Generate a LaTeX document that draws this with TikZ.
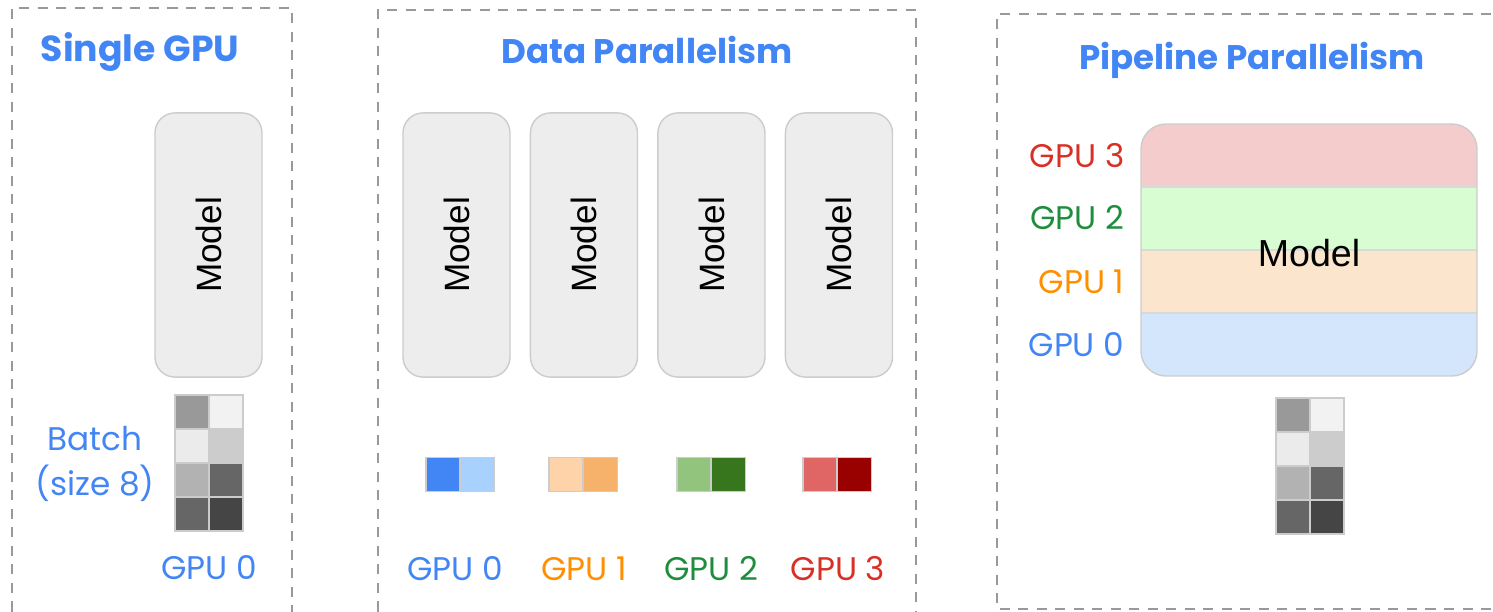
\documentclass[tikz,border=0pt]{standalone}
\usepackage{fontspec}
\setmainfont{Poppins}
\newfontfamily\modelfont{Liberation Sans}
\usetikzlibrary{positioning}

\definecolor{gpublue}{HTML}{4285F4}
\definecolor{gpuorange}{HTML}{FF8F00}
\definecolor{gpugreen}{HTML}{1E8E3E}
\definecolor{gpured}{HTML}{D93025}
\definecolor{bandred}{HTML}{F4CCCC}
\definecolor{bandgreen}{HTML}{D9FDD3}
\definecolor{bandpeach}{HTML}{FCE5CD}
\definecolor{bandblue}{HTML}{D3E6FB}
\definecolor{pairblue}{HTML}{A8D2FD}
\definecolor{pairpeach}{HTML}{FED3AA}
\definecolor{pairorange}{HTML}{F6B16B}
\definecolor{pairgreen}{HTML}{93C47D}
\definecolor{pairdarkgreen}{HTML}{38761D}
\definecolor{pairred}{HTML}{E06666}
\definecolor{pairdarkred}{HTML}{990000}

\tikzset{
x=0.01cm, y=-0.01cm, % one unit is one pixel of the layout, y runs down
panel/.style={draw=black!40, line width=0.7pt, dash pattern=on 0.1cm off 0.085cm},
title/.style={text=gpublue, font=\fontsize{9.7}{11}\selectfont\bfseries},
gpulabel/.style={font=\fontsize{9.3}{11}\selectfont, inner sep=0pt},
modelbox/.style={draw=black!20, fill=black!7, line width=0.4pt, rounded corners=0.2cm,
  minimum width=1.07cm, minimum height=2.64cm, inner sep=0pt, font=\modelfont\fontsize{10}{12}\selectfont},
cell/.style={draw=black!20, line width=0.3pt, minimum size=0.34cm, inner sep=0pt, outer sep=0pt},
batch/.pic={
  % 2 x 4 grid of samples, origin is the top left corner
  \foreach \g [count=\i from 0] in {40,5,8,20,30,60,60,73} {
    \pgfmathtruncatemacro\col{mod(\i,2)}
    \pgfmathtruncatemacro\row{div(\i,2)}
    \filldraw[fill=black!\g, draw=black!20, line width=0.3pt]
      (\col*34,\row*34) rectangle ++(34,34);
  }
},
}

\begin{document}
\begin{tikzpicture}
\useasboundingbox (0,0) rectangle (1493,611);

% panels
\draw[panel] (12,630) -- (12,8) -- (292,8) -- (292,630);
\draw[panel] (378,630) -- (378,10) -- (916,10) -- (916,630);
\draw[panel] (1510,14) -- (997,14) -- (997,609) -- (1510,609);

% single GPU
\node[title, font=\fontsize{10.3}{12}\selectfont\bfseries] (t1) at (140,52) {Single GPU};
\node[modelbox] (m) at (208.5,245) {\rotatebox{90}{Model}};
\pic at (175,395) {batch};
\node[gpulabel, text=gpublue, align=center] (batch) at (95,464) {Batch\\[2pt](size 8)};
\node[gpulabel, text=gpublue] (g) at (209,568) {GPU 0};

% data parallelism
\node[title] (t2) at (647,50) {Data Parallelism};
\node[modelbox] (m0) at (456.5,245) {\rotatebox{90}{Model}};
\node[modelbox, right=0.19cm of m0] (m1) {\rotatebox{90}{Model}};
\node[modelbox, right=0.19cm of m1] (m2) {\rotatebox{90}{Model}};
\node[modelbox, right=0.19cm of m2] (m3) {\rotatebox{90}{Model}};

\node[cell, fill=gpublue] (p0a) at (443,474.5) {};
\node[cell, fill=pairblue, right=0pt of p0a] (p0b) {};
\node[cell, fill=pairpeach] (p1a) at (566,474.5) {};
\node[cell, fill=pairorange, right=0pt of p1a] (p1b) {};
\node[cell, fill=pairgreen] (p2a) at (694,474.5) {};
\node[cell, fill=pairdarkgreen, right=0pt of p2a] (p2b) {};
\node[cell, fill=pairred] (p3a) at (820,474.5) {};
\node[cell, fill=pairdarkred, right=0pt of p3a] (p3b) {};

\node[gpulabel, text=gpublue] (d0) at (455,569) {GPU 0};
\node[gpulabel, text=gpuorange] (d1) at (584,569) {GPU 1};
\node[gpulabel, text=gpugreen] (d2) at (711,569) {GPU 2};
\node[gpulabel, text=gpured] (d3) at (838,569) {GPU 3};

% pipeline parallelism
\node[title] (t3) at (1252,60) {Pipeline Parallelism};
\begin{scope}
  \clip[rounded corners=0.25cm] (1141,124) rectangle (1477,376);
  \fill[bandred] (1141,124) rectangle (1477,187);
  \fill[bandgreen] (1141,187) rectangle (1477,250);
  \fill[bandpeach] (1141,250) rectangle (1477,313);
  \fill[bandblue] (1141,313) rectangle (1477,376);
  \foreach \y in {187,250,313}
    \draw[black!15, line width=0.4pt] (1141,\y) -- (1477,\y);
\end{scope}
\draw[black!20, line width=0.4pt, rounded corners=0.25cm] (1141,124) rectangle (1477,376);
\node[font=\modelfont\fontsize{10.7}{12}\selectfont] (pm) at (1309,253) {Model};

\node[gpulabel, text=gpured, anchor=east] (s3) at (1125,156) {GPU 3};
\node[gpulabel, text=gpugreen, anchor=east] (s2) at (1125,218) {GPU 2};
\node[gpulabel, text=gpuorange, anchor=east] (s1) at (1125,282) {GPU 1};
\node[gpulabel, text=gpublue, anchor=east] (s0) at (1125,345) {GPU 0};
\pic at (1276,398) {batch};
\end{tikzpicture}
\end{document}
